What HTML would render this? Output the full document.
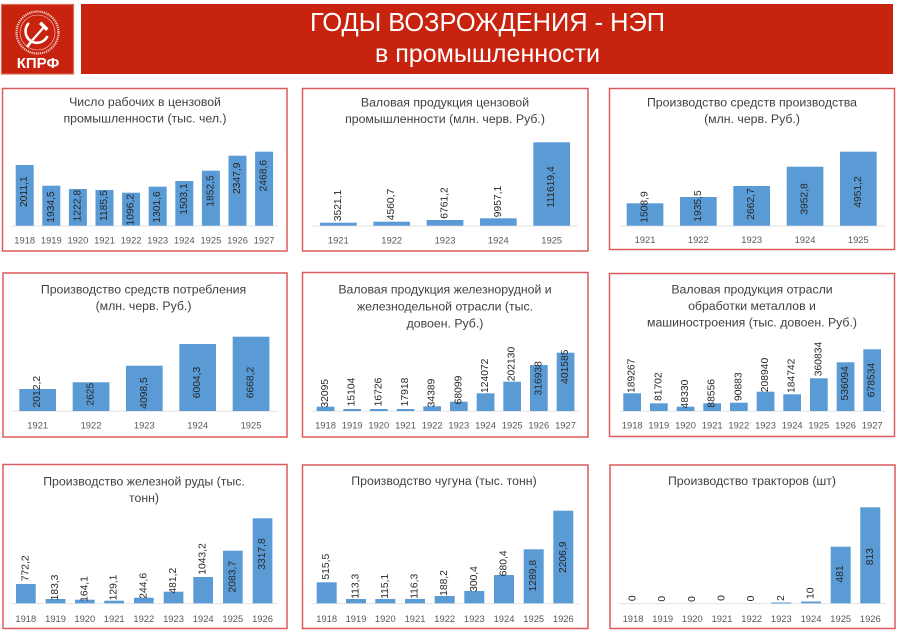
<!DOCTYPE html>
<html>
<head>
<meta charset="utf-8">
<style>
html,body{margin:0;padding:0;background:#fff;}
body{width:900px;height:634px;overflow:hidden;}
svg{display:block;}
text{font-family:"Liberation Sans","DejaVu Sans",sans-serif;}
.t{font-size:12.3px;fill:#404040;text-anchor:middle;}
.y{font-size:9.4px;fill:#595959;text-anchor:middle;}
.v{font-size:10.3px;fill:#262626;text-anchor:middle;dominant-baseline:central;}
.b{fill:#5b9bd5;}
.p{fill:none;stroke:#dc5a5a;stroke-width:1.5;}
.g{stroke:#e3e3e3;stroke-width:1;}
</style>
</head>
<body>
<svg width="900" height="634" viewBox="0 0 900 634" xmlns="http://www.w3.org/2000/svg">
<rect x="0" y="0" width="900" height="634" fill="#fff"/>

<!-- Logo -->
<rect x="1.5" y="4.5" width="72" height="69.5" fill="#c8230f" stroke="#dd6a58" stroke-width="1.2"/>
<circle cx="37.5" cy="32.5" r="21" fill="none" stroke="#f4d0c8" stroke-width="2.2" stroke-dasharray="1.2 0.9"/>
<circle cx="37.5" cy="32.5" r="17.5" fill="none" stroke="#f4d0c8" stroke-width="0.6"/>
<path d="M29,23 A11.5,11.5 0 1 0 47.5,36" fill="none" stroke="#fff" stroke-width="2.6"/>
<line x1="31" y1="42" x2="27" y2="47" stroke="#fff" stroke-width="2.6"/>
<line x1="29" y1="44" x2="44" y2="27" stroke="#fff" stroke-width="2.2"/>
<path d="M39,24 L46,31 L48.5,28.5 L41.5,21.5 Z" fill="#fff"/>
<text x="38" y="68" font-size="15" font-weight="bold" fill="#fff" text-anchor="middle">КПРФ</text>

<!-- Banner -->
<rect x="81" y="4" width="812" height="70" fill="#c8230f"/>
<text x="487.5" y="31" font-size="26" fill="#fff" text-anchor="middle" textLength="355" lengthAdjust="spacingAndGlyphs">ГОДЫ ВОЗРОЖДЕНИЯ - НЭП</text>
<text x="487.5" y="62" font-size="25" fill="#fff" text-anchor="middle" textLength="225" lengthAdjust="spacingAndGlyphs">в промышленности</text>

<!-- Panel borders -->
<rect class="p" x="2.5" y="88.5" width="284.5" height="162.5"/>
<rect class="p" x="302.5" y="88.5" width="285.5" height="162.5"/>
<rect class="p" x="609.5" y="88.5" width="285" height="161"/>
<rect class="p" x="3" y="273" width="284" height="164"/>
<rect class="p" x="302.5" y="272.5" width="285.5" height="164.5"/>
<rect class="p" x="609.5" y="273.5" width="285" height="163"/>
<rect class="p" x="3" y="464.5" width="284" height="164"/>
<rect class="p" x="302.5" y="465" width="285.5" height="163.5"/>
<rect class="p" x="610" y="465" width="285" height="163.5"/>

<!-- ===== Panel 1 ===== -->
<text class="t" x="145" y="106">Число рабочих в цензовой</text>
<text class="t" x="145" y="122.7">промышленности (тыс. чел.)</text>
<line class="g" x1="11" y1="226" x2="278" y2="226"/>
<rect class="b" x="15.7" y="165" width="18" height="60.7"/>
<rect class="b" x="42.3" y="185.7" width="18" height="40"/>
<rect class="b" x="68.9" y="189" width="18" height="36.7"/>
<rect class="b" x="95.5" y="190" width="18" height="35.7"/>
<rect class="b" x="122.1" y="192.7" width="18" height="33"/>
<rect class="b" x="148.7" y="186.7" width="18" height="39"/>
<rect class="b" x="175.3" y="181" width="18" height="44.7"/>
<rect class="b" x="201.9" y="170.7" width="18" height="55"/>
<rect class="b" x="228.5" y="155.7" width="18" height="70"/>
<rect class="b" x="255.1" y="151.7" width="18" height="74"/>
<text class="v" transform="translate(24.7,191.7) rotate(-90)">2011,1</text>
<text class="v" transform="translate(51.3,207) rotate(-90)">1934,5</text>
<text class="v" transform="translate(77.9,205.7) rotate(-90)">1222,8</text>
<text class="v" transform="translate(104.5,205.7) rotate(-90)">1185,5</text>
<text class="v" transform="translate(131.1,209.7) rotate(-90)">1096,2</text>
<text class="v" transform="translate(157.7,207) rotate(-90)">1301,6</text>
<text class="v" transform="translate(184.3,199) rotate(-90)">1503,1</text>
<text class="v" transform="translate(210.9,191) rotate(-90)">1852,5</text>
<text class="v" transform="translate(237.5,178.3) rotate(-90)">2347,9</text>
<text class="v" transform="translate(264.1,175.7) rotate(-90)">2468,6</text>
<text class="y" x="24.7" y="243.5">1918</text>
<text class="y" x="51.3" y="243.5">1919</text>
<text class="y" x="77.9" y="243.5">1920</text>
<text class="y" x="104.5" y="243.5">1921</text>
<text class="y" x="131.1" y="243.5">1922</text>
<text class="y" x="157.7" y="243.5">1923</text>
<text class="y" x="184.3" y="243.5">1924</text>
<text class="y" x="210.9" y="243.5">1925</text>
<text class="y" x="237.5" y="243.5">1926</text>
<text class="y" x="264.1" y="243.5">1927</text>

<!-- ===== Panel 2 ===== -->
<text class="t" x="445" y="106.5">Валовая продукция цензовой</text>
<text class="t" x="445" y="123">промышленности (млн. черв. Руб.)</text>
<line class="g" x1="312" y1="226" x2="578" y2="226"/>
<rect class="b" x="320" y="222.7" width="36.7" height="3"/>
<rect class="b" x="373.3" y="221.7" width="36.7" height="4"/>
<rect class="b" x="426.7" y="220" width="36.7" height="5.7"/>
<rect class="b" x="480" y="218.3" width="36.7" height="7.4"/>
<rect class="b" x="533.3" y="142.3" width="36.7" height="83.4"/>
<text class="v" transform="translate(338.3,205.5) rotate(-90)">3521,1</text>
<text class="v" transform="translate(391.7,204.5) rotate(-90)">4560,7</text>
<text class="v" transform="translate(445,203) rotate(-90)">6761,2</text>
<text class="v" transform="translate(498.3,201.5) rotate(-90)">9957,1</text>
<text class="v" transform="translate(551.7,187) rotate(-90)">111619,4</text>
<text class="y" x="338.3" y="243.5">1921</text>
<text class="y" x="391.7" y="243.5">1922</text>
<text class="y" x="445" y="243.5">1923</text>
<text class="y" x="498.3" y="243.5">1924</text>
<text class="y" x="551.7" y="243.5">1925</text>

<!-- ===== Panel 3 ===== -->
<text class="t" x="752" y="106.5">Производство средств производства</text>
<text class="t" x="752" y="123">(млн. черв. Руб.)</text>
<line class="g" x1="619" y1="226" x2="886" y2="226"/>
<rect class="b" x="626.7" y="203.3" width="36.7" height="22.4"/>
<rect class="b" x="680" y="197" width="36.7" height="28.7"/>
<rect class="b" x="733.3" y="186" width="36.7" height="39.7"/>
<rect class="b" x="786.7" y="166.7" width="36.7" height="59"/>
<rect class="b" x="840" y="151.7" width="36.7" height="74"/>
<text class="v" transform="translate(645,207) rotate(-90)">1508,9</text>
<text class="v" transform="translate(698.3,206) rotate(-90)">1935,5</text>
<text class="v" transform="translate(751.7,204) rotate(-90)">2662,7</text>
<text class="v" transform="translate(805,199) rotate(-90)">3952,8</text>
<text class="v" transform="translate(858.3,192) rotate(-90)">4951,2</text>
<text class="y" x="645" y="243">1921</text>
<text class="y" x="698.3" y="243">1922</text>
<text class="y" x="751.7" y="243">1923</text>
<text class="y" x="805" y="243">1924</text>
<text class="y" x="858.3" y="243">1925</text>

<!-- ===== Panel 4 ===== -->
<text class="t" x="143.5" y="293.3">Производство средств потребления</text>
<text class="t" x="143.5" y="310">(млн. черв. Руб.)</text>
<line class="g" x1="12" y1="411.3" x2="278" y2="411.3"/>
<rect class="b" x="19.3" y="389" width="36.7" height="22"/>
<rect class="b" x="72.7" y="382.3" width="36.7" height="28.7"/>
<rect class="b" x="126" y="365.7" width="36.7" height="45.3"/>
<rect class="b" x="179.3" y="344" width="36.7" height="67"/>
<rect class="b" x="232.7" y="336.7" width="36.7" height="74.3"/>
<text class="v" transform="translate(37.7,391.7) rotate(-90)">2012,2</text>
<text class="v" transform="translate(91,394.2) rotate(-90)">2625</text>
<text class="v" transform="translate(144.3,393) rotate(-90)">4098,5</text>
<text class="v" transform="translate(197.7,382.5) rotate(-90)">6004,3</text>
<text class="v" transform="translate(251,382.5) rotate(-90)">6668,2</text>
<text class="y" x="37.7" y="428.7">1921</text>
<text class="y" x="91" y="428.7">1922</text>
<text class="y" x="144.3" y="428.7">1923</text>
<text class="y" x="197.7" y="428.7">1924</text>
<text class="y" x="251" y="428.7">1925</text>

<!-- ===== Panel 5 ===== -->
<text class="t" x="445" y="293.3">Валовая продукция железнорудной и</text>
<text class="t" x="445" y="310.5">железнодельной отрасли (тыс.</text>
<text class="t" x="445" y="327.5">довоен. Руб.)</text>
<line class="g" x1="312" y1="411.3" x2="579" y2="411.3"/>
<rect class="b" x="316.7" y="406.7" width="17.7" height="4.3"/>
<rect class="b" x="343.3" y="409" width="17.7" height="2"/>
<rect class="b" x="370" y="409" width="17.7" height="2"/>
<rect class="b" x="396.7" y="409" width="17.7" height="2"/>
<rect class="b" x="423.3" y="406.3" width="17.7" height="4.7"/>
<rect class="b" x="450" y="401.7" width="17.7" height="9.3"/>
<rect class="b" x="476.7" y="393.3" width="17.7" height="17.7"/>
<rect class="b" x="503.3" y="381.7" width="17.7" height="29.3"/>
<rect class="b" x="530" y="365" width="17.7" height="46"/>
<rect class="b" x="556.7" y="352.7" width="17.7" height="58.3"/>
<text class="v" transform="translate(325.5,393.3) rotate(-90)">32095</text>
<text class="v" transform="translate(352.2,392) rotate(-90)">15104</text>
<text class="v" transform="translate(378.8,392) rotate(-90)">16726</text>
<text class="v" transform="translate(405.5,392) rotate(-90)">17918</text>
<text class="v" transform="translate(432.2,393) rotate(-90)">34389</text>
<text class="v" transform="translate(458.8,390) rotate(-90)">68099</text>
<text class="v" transform="translate(485.5,375.8) rotate(-90)">124072</text>
<text class="v" transform="translate(512.2,364) rotate(-90)">202130</text>
<text class="v" transform="translate(538.8,378.3) rotate(-90)">316938</text>
<text class="v" transform="translate(565.5,366.7) rotate(-90)">401585</text>
<text class="y" x="325.5" y="428.5">1918</text>
<text class="y" x="352.2" y="428.5">1919</text>
<text class="y" x="378.8" y="428.5">1920</text>
<text class="y" x="405.5" y="428.5">1921</text>
<text class="y" x="432.2" y="428.5">1922</text>
<text class="y" x="458.8" y="428.5">1923</text>
<text class="y" x="485.5" y="428.5">1924</text>
<text class="y" x="512.2" y="428.5">1925</text>
<text class="y" x="538.8" y="428.5">1926</text>
<text class="y" x="565.5" y="428.5">1927</text>

<!-- ===== Panel 6 ===== -->
<text class="t" x="752" y="293.3">Валовая продукция отрасли</text>
<text class="t" x="752" y="310">обработки металлов и</text>
<text class="t" x="752" y="326.7">машиностроения (тыс. довоен. Руб.)</text>
<line class="g" x1="619" y1="411.3" x2="886" y2="411.3"/>
<rect class="b" x="623.3" y="393.3" width="17.7" height="17.7"/>
<rect class="b" x="650" y="403.3" width="17.7" height="7.7"/>
<rect class="b" x="676.7" y="406.7" width="17.7" height="4.3"/>
<rect class="b" x="703.3" y="403.3" width="17.7" height="7.7"/>
<rect class="b" x="730" y="402.7" width="17.7" height="8.3"/>
<rect class="b" x="756.7" y="391.7" width="17.7" height="19.3"/>
<rect class="b" x="783.3" y="394.3" width="17.7" height="16.7"/>
<rect class="b" x="810" y="378.3" width="17.7" height="32.7"/>
<rect class="b" x="836.7" y="362.3" width="17.7" height="48.7"/>
<rect class="b" x="863.3" y="349.3" width="17.7" height="61.7"/>
<text class="v" transform="translate(632.2,375.8) rotate(-90)">189267</text>
<text class="v" transform="translate(658.8,386.7) rotate(-90)">81702</text>
<text class="v" transform="translate(685.5,394) rotate(-90)">48330</text>
<text class="v" transform="translate(712.2,393.3) rotate(-90)">88556</text>
<text class="v" transform="translate(738.8,386.7) rotate(-90)">90883</text>
<text class="v" transform="translate(765.5,375) rotate(-90)">208940</text>
<text class="v" transform="translate(792.2,375.8) rotate(-90)">184742</text>
<text class="v" transform="translate(818.8,359) rotate(-90)">360834</text>
<text class="v" transform="translate(845.5,383.3) rotate(-90)">536094</text>
<text class="v" transform="translate(872.2,380) rotate(-90)">678534</text>
<text class="y" x="632.2" y="428.7">1918</text>
<text class="y" x="658.8" y="428.7">1919</text>
<text class="y" x="685.5" y="428.7">1920</text>
<text class="y" x="712.2" y="428.7">1921</text>
<text class="y" x="738.8" y="428.7">1922</text>
<text class="y" x="765.5" y="428.7">1923</text>
<text class="y" x="792.2" y="428.7">1924</text>
<text class="y" x="818.8" y="428.7">1925</text>
<text class="y" x="845.5" y="428.7">1926</text>
<text class="y" x="872.2" y="428.7">1927</text>

<!-- ===== Panel 7 ===== -->
<text class="t" x="144" y="485.5">Производство железной руды (тыс.</text>
<text class="t" x="144" y="502">тонн)</text>
<line class="g" x1="11" y1="603.6" x2="278" y2="603.6"/>
<rect class="b" x="16" y="584" width="19.7" height="19.3"/>
<rect class="b" x="45.7" y="599" width="19.7" height="4.3"/>
<rect class="b" x="75" y="599.7" width="19.7" height="3.6"/>
<rect class="b" x="104.3" y="600.7" width="19.7" height="2.6"/>
<rect class="b" x="134" y="597.7" width="19.7" height="5.6"/>
<rect class="b" x="163.7" y="591.7" width="19.7" height="11.6"/>
<rect class="b" x="193.3" y="577" width="19.7" height="26.3"/>
<rect class="b" x="223" y="550.7" width="19.7" height="52.6"/>
<rect class="b" x="252.7" y="518.3" width="19.7" height="85"/>
<text class="v" transform="translate(25.8,568.3) rotate(-90)">772,2</text>
<text class="v" transform="translate(55.5,587.5) rotate(-90)">183,3</text>
<text class="v" transform="translate(84.8,589) rotate(-90)">164,1</text>
<text class="v" transform="translate(114.2,587.5) rotate(-90)">129,1</text>
<text class="v" transform="translate(143.8,585.8) rotate(-90)">244,6</text>
<text class="v" transform="translate(173.5,580.7) rotate(-90)">481,2</text>
<text class="v" transform="translate(203.2,559) rotate(-90)">1043,2</text>
<text class="v" transform="translate(232.8,576.7) rotate(-90)">2083,7</text>
<text class="v" transform="translate(262.5,554) rotate(-90)">3317,8</text>
<text class="y" x="25.8" y="622">1918</text>
<text class="y" x="55.5" y="622">1919</text>
<text class="y" x="84.8" y="622">1920</text>
<text class="y" x="114.2" y="622">1921</text>
<text class="y" x="143.8" y="622">1922</text>
<text class="y" x="173.5" y="622">1923</text>
<text class="y" x="203.2" y="622">1924</text>
<text class="y" x="232.8" y="622">1925</text>
<text class="y" x="262.5" y="622">1926</text>

<!-- ===== Panel 8 ===== -->
<text class="t" x="444" y="485">Производство чугуна (тыс. тонн)</text>
<line class="g" x1="311" y1="603.6" x2="579" y2="603.6"/>
<rect class="b" x="316.7" y="582.3" width="20" height="21"/>
<rect class="b" x="346" y="599" width="20" height="4.3"/>
<rect class="b" x="375.3" y="599" width="20" height="4.3"/>
<rect class="b" x="405" y="599" width="20" height="4.3"/>
<rect class="b" x="434.7" y="596" width="20" height="7.3"/>
<rect class="b" x="464.3" y="591" width="20" height="12.3"/>
<rect class="b" x="494" y="575" width="20" height="28.3"/>
<rect class="b" x="523.7" y="549.3" width="20" height="54"/>
<rect class="b" x="553.3" y="510.7" width="20" height="92.6"/>
<text class="v" transform="translate(326.7,566.7) rotate(-90)">515,5</text>
<text class="v" transform="translate(356,586.3) rotate(-90)">113,3</text>
<text class="v" transform="translate(385.3,586.3) rotate(-90)">115,1</text>
<text class="v" transform="translate(415,586.3) rotate(-90)">116,3</text>
<text class="v" transform="translate(444.7,583) rotate(-90)">188,2</text>
<text class="v" transform="translate(474.3,579) rotate(-90)">300,4</text>
<text class="v" transform="translate(504,563.3) rotate(-90)">680,4</text>
<text class="v" transform="translate(533.7,575.7) rotate(-90)">1289,8</text>
<text class="v" transform="translate(563.3,557.3) rotate(-90)">2206,9</text>
<text class="y" x="326.7" y="622">1918</text>
<text class="y" x="356" y="622">1919</text>
<text class="y" x="385.3" y="622">1920</text>
<text class="y" x="415" y="622">1921</text>
<text class="y" x="444.7" y="622">1922</text>
<text class="y" x="474.3" y="622">1923</text>
<text class="y" x="504" y="622">1924</text>
<text class="y" x="533.7" y="622">1925</text>
<text class="y" x="563.3" y="622">1926</text>

<!-- ===== Panel 9 ===== -->
<text class="t" x="752" y="485">Производство тракторов (шт)</text>
<line class="g" x1="619" y1="603.6" x2="886" y2="603.6"/>
<rect class="b" x="771.3" y="602.5" width="20" height="1"/>
<rect class="b" x="801" y="601.5" width="20" height="1.8"/>
<rect class="b" x="830.7" y="546.7" width="20" height="56.6"/>
<rect class="b" x="860.3" y="507.3" width="20" height="96"/>
<text class="v" transform="translate(633,598.3) rotate(-90)">0</text>
<text class="v" transform="translate(662.7,598.8) rotate(-90)">0</text>
<text class="v" transform="translate(692.3,599) rotate(-90)">0</text>
<text class="v" transform="translate(722,598) rotate(-90)">0</text>
<text class="v" transform="translate(751.7,598.5) rotate(-90)">0</text>
<text class="v" transform="translate(781.3,598) rotate(-90)">2</text>
<text class="v" transform="translate(811,593.3) rotate(-90)">10</text>
<text class="v" transform="translate(840.7,574) rotate(-90)">481</text>
<text class="v" transform="translate(870.3,556.7) rotate(-90)">813</text>
<text class="y" x="633" y="622">1918</text>
<text class="y" x="662.7" y="622">1919</text>
<text class="y" x="692.3" y="622">1920</text>
<text class="y" x="722" y="622">1921</text>
<text class="y" x="751.7" y="622">1922</text>
<text class="y" x="781.3" y="622">1923</text>
<text class="y" x="811" y="622">1924</text>
<text class="y" x="840.7" y="622">1925</text>
<text class="y" x="870.3" y="622">1926</text>
</svg>
</body>
</html>
